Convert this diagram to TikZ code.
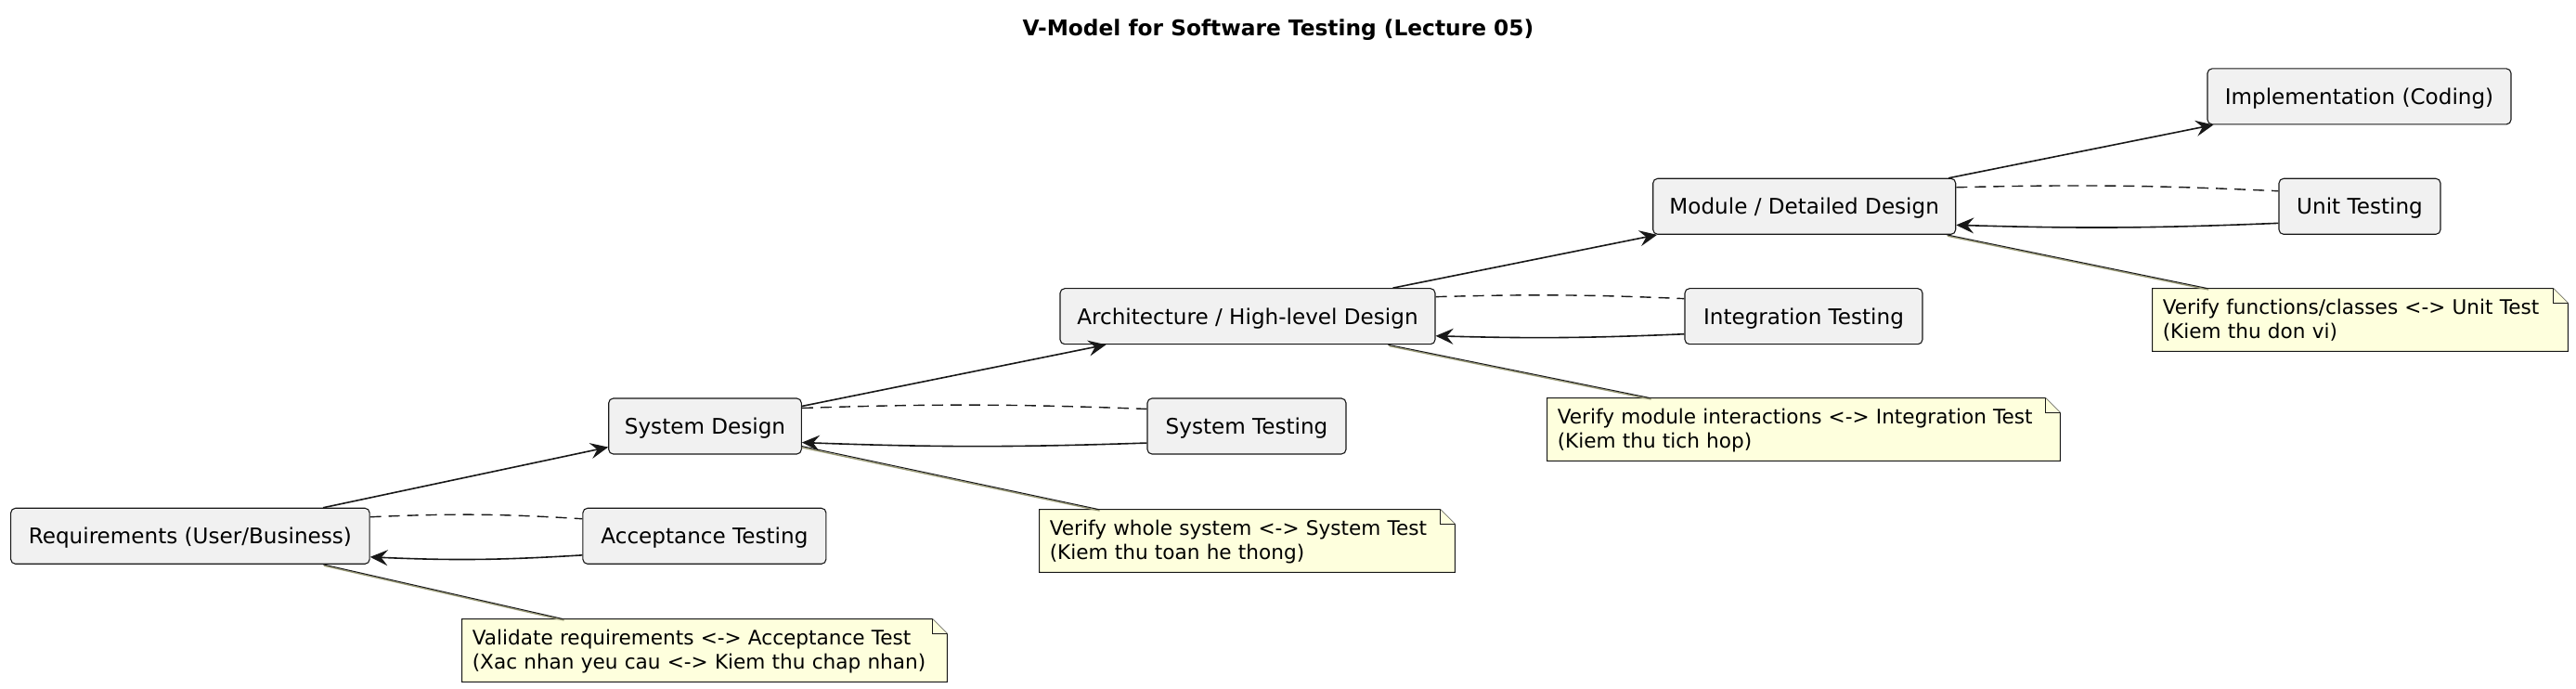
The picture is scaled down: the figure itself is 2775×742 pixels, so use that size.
\documentclass[tikz,border=0pt]{standalone}
\usepackage{fontspec}
\setmainfont{DejaVu Sans}
\usetikzlibrary{arrows.meta,calc,backgrounds}
\definecolor{boxfill}{HTML}{F1F1F1}
\definecolor{boxline}{HTML}{181818}
\definecolor{notefill}{HTML}{FEFFDD}
\definecolor{linkhalo}{HTML}{9C9C78}
\newcommand\notetext[2]{\mbox{\rule{0pt}{9.5pt}#1}\\\mbox{\rule[-2.4pt]{0pt}{2.4pt}#2}}
\newcommand\noteshape[1]{%
  \path[draw=boxline, fill=notefill, line width=0.55pt]
    (#1.north west) -- ($(#1.north east)+(-16,0)$) -- ($(#1.north east)+(0,16)$)
    -- (#1.south east) -- (#1.south west) -- cycle;
  \path[draw=boxline, fill=notefill, line width=0.55pt]
    ($(#1.north east)+(-16,0)$) -- ($(#1.north east)+(-16,16)$) -- ($(#1.north east)+(0,16)$);
}
\begin{document}
\begin{tikzpicture}[x=0.5pt,y=-0.5pt,
  box/.style={draw=boxline, fill=boxfill, line width=0.55pt, rounded corners=2.5pt,
    minimum height=30pt, inner sep=0pt, font=\fontsize{11.55pt}{14pt}\selectfont,
    text height=8.42pt, text depth=0pt},
  titlestyle/.style={inner sep=0pt, font=\fontsize{11.65pt}{14pt}\selectfont\bfseries,
    text height=8.5pt, text depth=0pt},
  notestyle/.style={inner xsep=5.4pt, inner ysep=4.5pt, align=left,
    font=\fontsize{10.8pt}{12.6pt}\selectfont},
  arr/.style={draw=boxline, line width=0.8pt, -{Stealth[length=9.5pt,width=8.5pt,inset=3.5pt]}},
  dashline/.style={draw=boxline, line width=0.7pt, dash pattern=on 6pt off 4pt},
  nlink/.style={draw=boxline, line width=0.5pt},
  nhalo/.style={draw=linkhalo, line width=0.7pt}
]
\useasboundingbox (0,0) rectangle (2775,742);

\node[titlestyle] (title) at (1377,30) {V-Model for Software Testing (Lecture 05)};

\node[box, minimum width=193.25pt] (req)  at (204.9,577.3) {Requirements (User/Business)};
\node[box, minimum width=131pt]    (acc)  at (758.9,577.3) {Acceptance Testing};
\node[box, minimum width=103.8pt]  (sd)   at (759.5,459)   {System Design};
\node[box, minimum width=107pt]    (st)   at (1343,459)    {System Testing};
\node[box, minimum width=202pt]    (arch) at (1344,340.7)  {Architecture / High-level Design};
\node[box, minimum width=128pt]    (it)   at (1943,340.7)  {Integration Testing};
\node[box, minimum width=163pt]    (mod)  at (1943.7,222.3) {Module / Detailed Design};
\node[box, minimum width=87pt]     (ut)   at (2542,222.3)  {Unit Testing};
\node[box, minimum width=163.5pt]  (impl) at (2541.5,103.9) {Implementation (Coding)};

\node[notestyle, text width=250.2pt] (n1) at (759,700.5)
  {\notetext{Validate requirements <-> Acceptance Test}{(Xac nhan yeu cau <-> Kiem thu chap nhan)}};
\node[notestyle, text width=212.7pt] (n2) at (1343.5,582.5)
  {\notetext{Verify whole system <-> System Test}{(Kiem thu toan he thong)}};
\node[notestyle, text width=265.2pt] (n3) at (1943,462.5)
  {\notetext{Verify module interactions <-> Integration Test}{(Kiem thu tich hop)}};
\node[notestyle, text width=212.7pt] (n4) at (2542.5,344.5)
  {\notetext{Verify functions/classes <-> Unit Test}{(Kiem thu don vi)}};

\begin{scope}[on background layer]
  \fill[white] (0,0) rectangle (2775,742);
  \noteshape{n1}
  \noteshape{n2}
  \noteshape{n3}
  \noteshape{n4}
\end{scope}

% descending design chain
\draw[arr] ($(req.north west)+(337,0)$) -- ($(sd.south west)+(0,-8)$);
\draw[arr] ($(sd.north east)+(0,9)$) -- ($(arch.south west)+(50,0)$);
\draw[arr] ($(arch.north west)+(359,0)$) -- ($(mod.south west)+(5,0)$);
\draw[arr] ($(mod.north west)+(319,0)$) -- ($(impl.south west)+(7,0)$);

% dashed correspondences
\draw[dashline] ($(req.north east)+(0,10)$) to[bend left=3] ($(acc.north west)+(0,12)$);
\draw[dashline] ($(sd.north east)+(0,11)$) to[bend left=2] ($(st.north west)+(0,12)$);
\draw[dashline] ($(arch.north east)+(0,9.5)$) to[bend left=2] ($(it.north west)+(0,11.5)$);
\draw[dashline] ($(mod.north east)+(0,10)$) to[bend left=2] ($(ut.north west)+(0,14)$);

% verification arrows back
\draw[arr] ($(acc.south west)+(0,-10)$) to[bend left=3] ($(req.south east)+(0,-8)$);
\draw[arr] ($(st.south west)+(0,-12.5)$) to[bend left=2] ($(sd.south east)+(0,-13)$);
\draw[arr] ($(it.south west)+(0,-11.5)$) to[bend left=2] ($(arch.south east)+(0,-9.5)$);
\draw[arr] ($(ut.south west)+(0,-12.5)$) to[bend left=2] ($(mod.south east)+(0,-10.5)$);

% note links
\draw[nhalo] ($(req.south west)+(338,1.4)$) -- ($(n1.north west)+(110,1.4)$);
\draw[nlink] ($(req.south west)+(337,0)$) -- ($(n1.north west)+(109,0)$);
\draw[nhalo] ($(sd.south east)+(0,-7.6)$) -- ($(n2.north west)+(65,1.4)$);
\draw[nlink] ($(sd.south east)+(0,-9)$) -- ($(n2.north west)+(64,0)$);
\draw[nhalo] ($(arch.south west)+(355,1.4)$) -- ($(n3.north west)+(112,1.4)$);
\draw[nlink] ($(arch.south west)+(354,0)$) -- ($(n3.north west)+(111,0)$);
\draw[nhalo] ($(mod.south west)+(318,1.4)$) -- ($(n4.north west)+(60.5,1.4)$);
\draw[nlink] ($(mod.south west)+(317,0)$) -- ($(n4.north west)+(59.5,0)$);
\end{tikzpicture}
\end{document}
